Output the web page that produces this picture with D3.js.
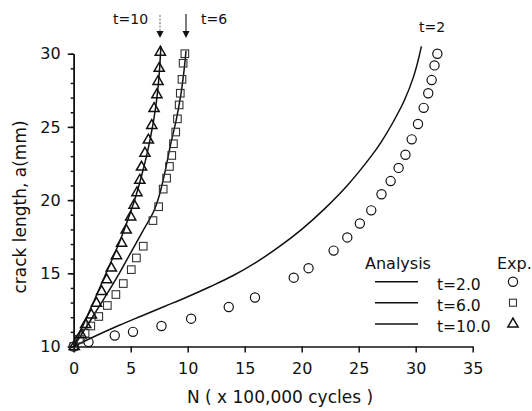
<!DOCTYPE html>
<html>
<head>
<meta charset="utf-8">
<script src="https://cdn.jsdelivr.net/npm/d3@7"></script>
<style>
  body { margin: 0; background: #fff; }
  svg text { font-family: "DejaVu Sans", sans-serif; fill: #111; }
</style>
</head>
<body>
<div id="chart"></div>
<script>
// Experimental points [N (x100,000 cycles), a (mm)]
const expT2 = [[0, 10], [1.3, 10.3], [3.6, 10.75], [5.2, 11.0], [7.7, 11.4], [10.3, 11.9], [13.6, 12.7],
  [15.9, 13.35], [19.3, 14.7], [20.6, 15.35], [22.8, 16.55], [24.0, 17.45], [25.1, 18.4], [26.1, 19.3],
  [27.0, 20.4], [27.8, 21.3], [28.5, 22.2], [29.1, 23.1], [29.65, 24.15], [30.2, 25.2], [30.7, 26.3],
  [31.1, 27.3], [31.4, 28.2], [31.65, 29.2], [31.9, 30.0]];
const expT6 = [[0, 10], [0.5, 10.5], [1.0, 10.9], [1.5, 11.4], [2.2, 12.05], [2.95, 12.8], [3.7, 13.55],
  [4.35, 14.3], [5.05, 15.25], [5.5, 16.05], [6.1, 16.85], [6.95, 18.6], [7.45, 19.55], [7.85, 20.75],
  [8.15, 21.5], [8.4, 22.3], [8.6, 23.05], [8.75, 23.85], [8.95, 24.65], [9.1, 25.55], [9.25, 26.5],
  [9.35, 27.3], [9.5, 28.25], [9.6, 29.35], [9.75, 30.0]];
const expT10 = [[0.05, 10.0], [0.65, 10.8], [1.05, 11.5], [1.55, 12.15], [2.0, 12.95], [2.45, 13.75],
  [2.9, 14.55], [3.3, 15.35], [3.75, 16.2], [4.2, 17.05], [4.6, 17.95], [5.0, 18.85], [5.3, 19.65],
  [5.55, 20.5], [5.8, 21.35], [5.95, 22.25], [6.25, 23.2], [6.55, 24.1], [6.85, 25.1], [7.05, 26.25],
  [7.3, 27.2], [7.4, 28.1], [7.5, 29.0], [7.6, 30.1]];

// Analysis curves
const anaT2 = [[0, 10], [2, 10.75], [4, 11.45], [6, 12.1], [8, 12.75], [10, 13.4], [12, 14.1], [14, 14.85],
  [16, 15.75], [18, 16.8], [20, 18.0], [22, 19.4], [24, 21.0], [26, 22.9], [27, 24.0], [28, 25.3],
  [29, 26.8], [29.8, 28.4], [30.2, 29.5], [30.5, 30.5]];
const anaT6 = [[0, 10], [1, 11.2], [2, 12.45], [3, 13.7], [4, 15.0], [5, 16.4], [6, 17.8], [7, 19.2],
  [7.5, 20.3], [8, 21.9], [8.5, 23.8], [9, 25.5], [9.4, 27.2], [9.7, 29.0], [9.85, 30.2]];
const anaT10 = [[0, 10], [1, 11.75], [2, 13.5], [3, 15.3], [4, 17.1], [5, 19.2], [5.5, 20.4], [6, 21.8],
  [6.5, 23.4], [7, 25.4], [7.3, 27.0], [7.5, 28.6], [7.65, 30.5]];

const xTicks = [0, 5, 10, 15, 20, 25, 30, 35];
const yTicks = [10, 15, 20, 25, 30];
const legendLabels = ["t=2.0", "t=6.0", "t=10.0"];

const width = 532, height = 411;
const svg = d3.select("#chart").append("svg")
  .attr("width", width).attr("height", height);

const x = d3.scaleLinear().domain([0, 35]).range([73.7, 472.7]);
const y = d3.scaleLinear().domain([10, 30]).range([346.5, 53.7]);

// axes
const xAxis = svg.append("g")
  .attr("transform", `translate(0,${y(10)})`)
  .call(d3.axisBottom(x).tickValues(xTicks).tickSize(6).tickPadding(10).tickSizeOuter(0));
const yMinor = svg.append("g")
  .attr("transform", `translate(${x(0)},0)`)
  .call(d3.axisLeft(y).ticks(20).tickSize(3).tickFormat("").tickSizeOuter(0));
const yAxis = svg.append("g")
  .attr("transform", `translate(${x(0)},0)`)
  .call(d3.axisLeft(y).tickValues(yTicks).tickSize(6).tickPadding(7).tickSizeOuter(0));
[xAxis, yAxis, yMinor].forEach(g => {
  g.selectAll("path, line").attr("stroke", "#111").attr("stroke-width", 1.5);
  g.selectAll("text").attr("font-size", 16).attr("fill", "#111")
    .style("font-family", "'DejaVu Sans', sans-serif");
});

// axis titles
svg.append("text")
  .attr("x", 280).attr("y", 403)
  .attr("text-anchor", "middle").attr("font-size", 17)
  .text("N ( x 100,000 cycles )");
svg.append("text")
  .attr("transform", `translate(26,${207}) rotate(-90)`)
  .attr("text-anchor", "middle").attr("font-size", 17)
  .text("crack length, a(mm)");

// analysis lines
const line = d3.line().x(d => x(d[0])).y(d => y(d[1])).curve(d3.curveCatmullRom);
[anaT2, anaT6, anaT10].forEach(data => {
  svg.append("path").datum(data)
    .attr("fill", "none").attr("stroke", "#111").attr("stroke-width", 1.5)
    .attr("d", line);
});

// experimental symbols
svg.selectAll(".c").data(expT2).enter().append("circle")
  .attr("cx", d => x(d[0])).attr("cy", d => y(d[1])).attr("r", 4.6)
  .attr("fill", "none").attr("stroke", "#111").attr("stroke-width", 1.2);
svg.selectAll(".s").data(expT6).enter().append("rect")
  .attr("x", d => x(d[0]) - 3.8).attr("y", d => y(d[1]) - 3.8)
  .attr("width", 7.6).attr("height", 7.6)
  .attr("fill", "none").attr("stroke", "#333").attr("stroke-width", 1.1);
const tri = d3.symbol().type(d3.symbolTriangle).size(45);
svg.selectAll(".t").data(expT10).enter().append("path")
  .attr("transform", d => `translate(${x(d[0])},${y(d[1])})`)
  .attr("d", tri)
  .attr("fill", "none").attr("stroke", "#111").attr("stroke-width", 1.5);

// annotations
function arrow(px, y0, y1, dash) {
  svg.append("line").attr("x1", px).attr("x2", px).attr("y1", y0).attr("y2", y1 - 6)
    .attr("stroke", dash ? "#777" : "#111").attr("stroke-width", 1.1)
    .attr("stroke-dasharray", dash ? "2,1.5" : null);
  svg.append("path")
    .attr("d", `M${px - 3.5},${y1 - 7}L${px + 3.5},${y1 - 7}L${px},${y1}Z`)
    .attr("fill", "#111");
}
arrow(160, 15, 38, true);
arrow(186, 14, 38, false);
svg.append("text").attr("x", 113).attr("y", 23.5).attr("font-size", 14).text("t=10");
svg.append("text").attr("x", 201).attr("y", 23.5).attr("font-size", 14).text("t=6");
svg.append("text").attr("x", 419).attr("y", 31.5).attr("font-size", 14).text("t=2");

// legend
svg.append("text").attr("x", 365).attr("y", 268.5).attr("font-size", 16).text("Analysis");
svg.append("text").attr("x", 497).attr("y", 268.5).attr("font-size", 16).text("Exp.");
const rowY = [281.7, 302.7, 324];
legendLabels.forEach((lab, i) => {
  svg.append("line").attr("x1", 375).attr("x2", 418).attr("y1", rowY[i]).attr("y2", rowY[i])
    .attr("stroke", "#111").attr("stroke-width", 1.5);
  svg.append("text").attr("x", 437).attr("y", rowY[i] + 8).attr("font-size", 15.5).text(lab);
});
svg.append("circle").attr("cx", 513).attr("cy", rowY[0]).attr("r", 4.6)
  .attr("fill", "none").attr("stroke", "#111").attr("stroke-width", 1.2);
svg.append("rect").attr("x", 513 - 3.5).attr("y", rowY[1] - 3.5).attr("width", 7).attr("height", 7)
  .attr("fill", "none").attr("stroke", "#333").attr("stroke-width", 1.1);
svg.append("path").attr("transform", `translate(513,${rowY[2]})`).attr("d", tri)
  .attr("fill", "none").attr("stroke", "#111").attr("stroke-width", 1.5);
</script>
</body>
</html>
